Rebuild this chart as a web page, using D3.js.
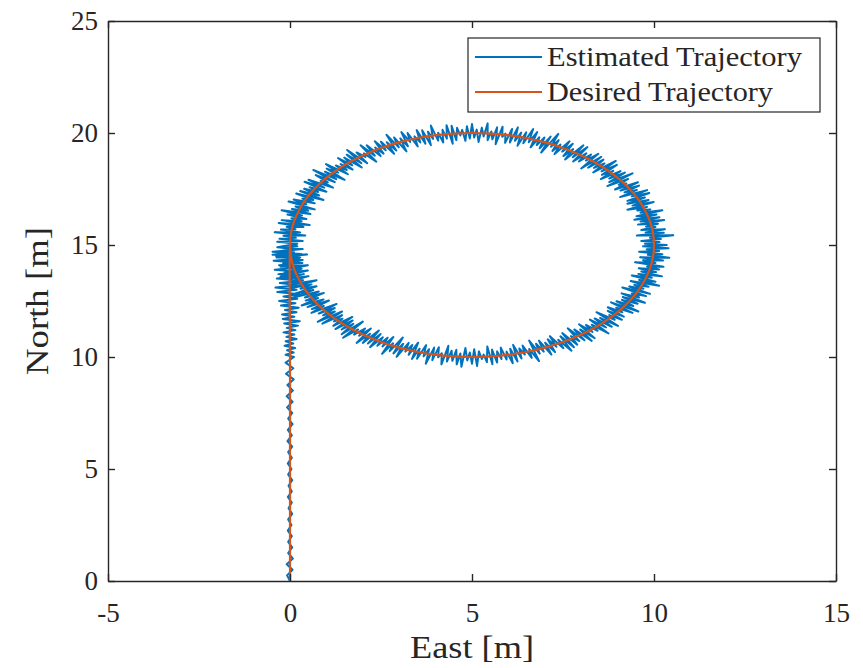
<!DOCTYPE html>
<html>
<head>
<meta charset="utf-8">
<script src="https://cdn.jsdelivr.net/npm/d3@7"></script>
<style>
  html, body { margin: 0; padding: 0; background: #fff; }
  svg { display: block; }
  svg text { font-family: "Liberation Serif", "Tinos", "Times New Roman", "DejaVu Serif", serif; fill: #262626; }
</style>
</head>
<body>
<svg id="chart" width="863" height="668"></svg>
<script>
// ---------------- data ----------------
const xTicks = [-5, 0, 5, 10, 15];
const yTicks = [0, 5, 10, 15, 20, 25];
const seriesNames = ["Estimated Trajectory", "Desired Trajectory"];

// Estimated trajectory, straight northward leg
const estStraightNorth = [0,0.25,0.5,0.75,1,1.25,1.5,1.75,2,2.25,2.5,2.75,3,3.25,3.5,3.75,4,4.25,4.5,4.75,5,5.25,5.5,5.75,6,6.25,6.5,6.75,7,7.25,7.5,7.75,8,8.25,8.5,8.75,9,9.25,9.5,9.75,10,
  10.1,10.2,10.3,10.4,10.5,10.6,10.7,10.8,10.9,11,11.1,11.2,11.3,11.4,11.5,11.6,11.7,11.8,11.9,12,12.1,12.2,12.3,12.4,12.5,12.6,12.7,12.8,12.9,13,13.1,13.2,13.3,13.4,13.5,13.6,13.7,13.8,13.9,14,14.1,14.2,14.3,14.4,14.5,14.6,14.7,14.8,14.9];
const estStraightEast = [0.00,-0.08,0.07,-0.09,0.08,-0.05,0.06,-0.05,0.05,-0.06,0.04,-0.05,0.06,-0.04,0.05,-0.06,0.05,-0.04,0.06,-0.05,0.04,-0.06,0.05,-0.05,0.06,-0.07,0.05,-0.06,0.07,-0.05,0.06,-0.08,0.07,-0.09,0.08,-0.07,0.10,-0.11,0.09,-0.12,0.11,
  -0.12,0.10,-0.08,0.14,-0.15,0.09,-0.12,0.18,-0.10,0.12,-0.18,0.15,-0.09,0.22,-0.16,0.27,-0.20,0.12,-0.22,0.18,-0.14,0.24,-0.25,0.15,-0.30,0.20,-0.18,0.26,-0.35,0.18,-0.40,0.22,-0.28,0.30,-0.36,0.16,-0.32,0.28,-0.42,0.20,-0.30,0.34,-0.45,0.25,-0.38,0.30,-0.48,0.22,-0.35];

// Estimated trajectory, clockwise loop round (5, 15)
const estLoopEast = [
  0.00,0.20,-0.35,0.35,-0.29,0.16,-0.18,0.42,-0.42,0.28,-0.25,0.15,-0.09,0.37,-0.31,0.54,-0.23,0.32,0.04,0.45,
  -0.07,0.33,-0.23,0.56,0.05,0.50,0.15,0.68,-0.04,0.45,0.10,0.68,0.34,0.64,0.17,0.92,0.28,0.80,0.39,0.77,
  0.54,1.00,0.40,0.94,0.51,1.18,0.84,1.04,0.71,1.23,0.64,1.27,0.96,1.50,1.01,1.32,0.99,1.59,1.26,1.56,
  1.39,1.72,1.32,1.71,1.49,1.97,1.56,1.96,1.57,2.12,1.83,2.07,2.03,2.37,1.94,2.33,2.11,2.49,2.34,2.57,
  2.33,2.63,2.50,2.86,2.66,2.92,2.65,2.99,2.86,3.20,3.03,3.24,3.06,3.30,3.23,3.51,3.42,3.58,3.48,3.72,
  3.63,3.87,3.79,3.93,3.87,4.07,4.07,4.21,4.19,4.31,4.30,4.47,4.44,4.57,4.59,4.68,4.73,4.82,4.86,4.94,
  5.00,5.06,5.13,5.18,5.27,5.32,5.43,5.43,5.53,5.56,5.69,5.65,5.84,5.83,5.92,5.91,6.10,6.04,6.26,6.18,
  6.35,6.25,6.49,6.41,6.68,6.56,6.79,6.61,6.85,6.78,6.99,6.86,7.16,6.90,7.37,7.17,7.38,7.21,7.43,7.27,
  7.68,7.48,7.77,7.51,7.78,7.56,8.06,7.77,8.17,7.78,8.14,7.94,8.27,8.13,8.47,8.00,8.55,8.19,8.61,8.35,
  8.64,8.33,8.95,8.56,8.98,8.57,8.88,8.54,9.08,8.77,9.20,8.77,9.41,8.72,9.29,9.03,9.24,8.93,9.56,9.08,
  9.59,9.19,9.53,9.07,9.81,9.39,9.87,9.27,9.75,9.27,9.85,9.41,9.99,9.27,9.81,9.54,9.90,9.63,10.23,9.52,
  10.07,9.46,10.15,9.63,10.28,9.56,10.11,9.78,10.04,9.65,10.30,9.77,10.27,9.53,10.53,9.89,10.19,9.65,10.15,9.75,
  10.35,9.70,10.40,9.80,10.14,9.59,10.23,9.83,10.42,9.62,10.25,9.70,10.04,9.48,10.26,9.81,10.14,9.58,10.06,9.65,
  10.22,9.57,9.94,9.39,10.04,9.59,10.14,9.36,9.85,9.46,9.71,9.32,9.89,9.13,9.78,9.39,9.59,9.11,9.75,9.14,
  9.55,9.12,9.43,8.97,9.57,8.82,9.41,8.96,9.13,8.73,9.17,8.73,9.12,8.77,8.92,8.42,9.01,8.52,8.84,8.37,
  8.68,8.24,8.75,8.29,8.45,8.13,8.31,7.94,8.37,7.97,8.29,7.81,8.09,7.63,7.95,7.72,7.89,7.48,7.80,7.43,
  7.73,7.37,7.51,7.14,7.32,7.08,7.28,7.01,7.18,6.84,6.97,6.76,6.86,6.57,6.84,6.57,6.64,6.39,6.45,6.30,
  6.36,6.13,6.25,6.05,6.12,5.95,5.95,5.79,5.81,5.69,5.69,5.55,5.56,5.42,5.41,5.32,5.27,5.19,5.14,5.06,
  5.00,4.94,4.87,4.82,4.71,4.68,4.58,4.57,4.46,4.44,4.31,4.35,4.16,4.17,4.07,4.09,3.91,3.96,3.73,3.82,
  3.67,3.74,3.49,3.56,3.35,3.52,3.26,3.36,3.17,3.26,2.93,3.11,2.84,3.10,2.74,2.83,2.53,2.84,2.54,2.68,
  2.40,2.55,2.20,2.49,2.14,2.44,2.00,2.20,1.83,2.22,1.90,2.06,1.76,1.87,1.46,2.00,1.42,1.74,1.42,1.72,
  1.25,1.71,1.19,1.44,1.21,1.43,0.89,1.43,0.76,1.23,0.91,1.23,0.79,1.28,0.59,0.93,0.60,1.07,0.48,0.92,
  0.32,0.77,0.43,0.93,0.41,0.79,0.08,0.64,0.16,0.73,0.29,0.59,0.01,0.73,0.05,0.36,0.05,0.51,-0.18,0.38,
  -0.26,0.49,-0.15,0.32,0.01,0.49,-0.26,0.22,-0.19,0.35,-0.11,0.28,-0.37,0.47,-0.48,0.11,-0.29,0.35,-0.20,0.20,
  0.00];
const estLoopNorth = [
  15.00,15.06,15.14,15.18,15.28,15.32,15.41,15.42,15.57,15.56,15.69,15.70,15.81,15.80,15.98,15.89,16.11,16.06,16.19,16.16,
  16.36,16.32,16.55,16.38,16.61,16.53,16.72,16.59,16.94,16.82,17.03,16.86,17.07,17.01,17.30,17.01,17.41,17.21,17.51,17.37,
  17.58,17.38,17.82,17.56,17.91,17.56,17.86,17.80,18.12,17.81,18.35,17.94,18.27,17.91,18.41,18.23,18.61,18.16,18.55,18.35,
  18.61,18.37,18.88,18.56,18.90,18.46,19.03,18.65,19.24,18.65,19.13,18.93,19.09,18.72,19.45,18.99,19.45,18.97,19.35,19.08,
  19.63,19.23,19.61,19.07,19.59,19.22,19.92,19.36,19.80,19.18,19.76,19.41,20.04,19.60,20.00,19.40,19.85,19.58,20.13,19.52,
  20.12,19.46,20.06,19.73,20.33,19.66,20.01,19.58,20.14,19.75,20.35,19.52,20.32,19.68,20.23,19.89,20.14,19.65,20.30,19.75,
  20.40,19.80,20.15,19.60,20.24,19.84,20.43,19.68,20.07,19.72,20.25,19.50,20.28,19.83,19.97,19.56,20.18,19.58,20.25,19.65,
  20.02,19.43,20.03,19.54,20.18,19.59,20.04,19.36,19.81,19.46,19.80,19.32,19.84,19.13,19.96,19.39,19.68,19.20,19.48,19.06,
  19.63,19.17,19.52,18.97,19.28,18.82,19.45,18.92,19.37,18.73,19.09,18.73,19.04,18.77,19.07,18.42,18.94,18.45,18.81,18.44,
  18.64,18.24,18.75,18.29,18.58,18.13,18.31,17.94,18.30,17.97,18.23,17.81,18.20,17.63,17.95,17.69,17.75,17.48,17.80,17.43,
  17.65,17.35,17.46,17.14,17.45,17.17,17.32,16.97,17.12,16.84,17.01,16.76,16.92,16.57,16.70,16.54,16.59,16.44,16.55,16.28,
  16.36,16.13,16.24,16.05,16.12,15.91,15.95,15.82,15.80,15.67,15.70,15.56,15.55,15.42,15.44,15.32,15.27,15.18,15.13,15.06,
  15.00,14.94,14.86,14.81,14.73,14.70,14.59,14.56,14.43,14.45,14.31,14.32,14.20,14.23,14.03,14.04,13.91,13.96,13.79,13.82,
  13.60,13.71,13.54,13.64,13.36,13.44,13.18,13.39,13.14,13.22,13.05,13.15,12.82,13.10,12.72,12.83,12.66,12.84,12.42,12.68,
  12.38,12.55,12.28,12.49,12.03,12.44,11.97,12.20,12.00,12.22,11.80,12.06,11.66,11.87,11.66,12.00,11.39,11.74,11.35,11.72,
  11.32,11.67,11.05,11.44,11.17,11.43,11.12,11.46,10.84,11.23,10.72,11.23,10.75,11.28,10.71,10.93,10.55,11.07,10.44,10.92,
  10.28,10.77,10.39,10.93,10.46,10.79,10.22,10.64,10.11,10.73,10.24,10.59,10.15,10.73,9.82,10.36,9.96,10.51,10.11,10.38,
  9.93,10.54,9.80,10.37,9.72,10.24,9.89,10.42,9.91,10.25,9.75,10.33,9.68,10.47,9.77,10.11,9.91,10.25,9.60,10.35,
  9.70,10.20,9.85,10.40,9.56,10.16,9.67,10.32,9.83,10.28,9.80,10.50,9.67,10.17,9.99,10.44,9.86,10.42,9.70,10.35,
  10.03,10.53,9.92,10.37,9.91,10.64,10.10,10.54,10.24,10.63,10.01,10.59,10.16,10.87,10.26,10.61,10.14,10.89,10.47,10.86,
  10.50,10.88,10.44,11.03,10.60,11.18,10.63,11.04,10.63,11.27,10.95,11.27,11.00,11.23,10.86,11.58,11.02,11.48,11.23,11.63,
  11.25,11.79,11.39,11.71,11.59,11.87,11.49,12.03,11.57,12.03,11.86,12.19,11.94,12.37,11.97,12.28,12.14,12.52,12.23,12.57,
  12.30,12.63,12.52,12.86,12.66,12.92,12.65,12.99,12.84,13.16,13.05,13.24,13.08,13.43,13.25,13.43,13.39,13.61,13.47,13.70,
  13.59,13.86,13.76,13.94,13.94,14.10,14.03,14.18,14.18,14.33,14.33,14.44,14.44,14.58,14.57,14.68,14.72,14.82,14.86,14.94,
  15.00];

// Desired trajectory: straight leg, then the circle of radius 5 round (5, 15)
const desiredEast = [0,0,0,
  0.000,0.027,0.109,0.245,0.432,0.670,0.955,1.284,1.654,2.061,2.500,2.966,3.455,3.960,4.477,5.000,
  5.523,6.040,6.545,7.034,7.500,7.939,8.346,8.716,9.045,9.330,9.568,9.755,9.891,9.973,10.000,
  9.973,9.891,9.755,9.568,9.330,9.045,8.716,8.346,7.939,7.500,7.034,6.545,6.040,5.523,5.000,
  4.477,3.960,3.455,2.966,2.500,2.061,1.654,1.284,0.955,0.670,0.432,0.245,0.109,0.027,0.000];
const desiredNorth = [0,5,10,
  15.000,15.523,16.040,16.545,17.034,17.500,17.939,18.346,18.716,19.045,19.330,19.568,19.755,19.891,19.973,20.000,
  19.973,19.891,19.755,19.568,19.330,19.045,18.716,18.346,17.939,17.500,17.034,16.545,16.040,15.523,15.000,
  14.477,13.960,13.455,12.966,12.500,12.061,11.654,11.284,10.955,10.670,10.432,10.245,10.109,10.027,10.000,
  10.027,10.109,10.245,10.432,10.670,10.955,11.284,11.654,12.061,12.500,12.966,13.455,13.960,14.477,15.000];

// ---------------- build ----------------
const pairUp = (es, ns) => d3.range(Math.min(es.length, ns.length)).map(i => ({ e: es[i], n: ns[i] }));
const estimated = pairUp(estStraightEast, estStraightNorth).concat(pairUp(estLoopEast, estLoopNorth));
const desired = pairUp(desiredEast, desiredNorth);

const M = { left: 108, right: 836, top: 21, bottom: 581 };
const axisColor = "#262626";
const blue = "#0072BD", orange = "#D95319";
const serif = '"Liberation Serif", "Tinos", "Times New Roman", "DejaVu Serif", serif';

const svg = d3.select("#chart");
const x = d3.scaleLinear().domain([-5, 15]).range([M.left, M.right]);
const y = d3.scaleLinear().domain([0, 25]).range([M.bottom, M.top]);

svg.append("defs").append("clipPath").attr("id", "plotclip")
  .append("rect").attr("x", M.left).attr("y", M.top)
  .attr("width", M.right - M.left).attr("height", M.bottom - M.top);

const plot = svg.append("g").attr("clip-path", "url(#plotclip)");

plot.append("path")
  .datum(estimated)
  .attr("fill", "none")
  .attr("stroke", blue)
  .attr("stroke-width", 2)
  .attr("stroke-linejoin", "round")
  .attr("d", d3.line().x(d => x(d.e)).y(d => y(d.n)));

plot.append("path")
  .datum(desired)
  .attr("fill", "none")
  .attr("stroke", orange)
  .attr("stroke-width", 2.2)
  .attr("d", d3.line().x(d => x(d.e)).y(d => y(d.n)).curve(d3.curveCatmullRom.alpha(0.5)));

// axes (MATLAB-like box with inward ticks)
function styleAxis(g) {
  g.attr("font-family", null).attr("font-size", null);
  g.selectAll("path.domain").attr("stroke", axisColor).attr("stroke-width", 1.4);
  g.selectAll(".tick line").attr("stroke", axisColor).attr("stroke-width", 1.4);
  g.selectAll(".tick text").attr("fill", axisColor)
    .style("font-family", serif)
    .style("font-size", "27px");
}
const fmt = d => String(d);

svg.append("g").attr("transform", `translate(0,${M.bottom})`)
  .call(d3.axisBottom(x).tickValues(xTicks).tickFormat(fmt).tickSizeInner(-7).tickSizeOuter(0).tickPadding(22))
  .call(styleAxis);
svg.append("g").attr("transform", `translate(0,${M.top})`)
  .call(d3.axisTop(x).tickValues(xTicks).tickFormat("").tickSizeInner(-7).tickSizeOuter(0))
  .call(styleAxis);
svg.append("g").attr("transform", `translate(${M.left},0)`)
  .call(d3.axisLeft(y).tickValues(yTicks).tickFormat(fmt).tickSizeInner(-7).tickSizeOuter(0).tickPadding(10))
  .call(styleAxis);
svg.append("g").attr("transform", `translate(${M.right},0)`)
  .call(d3.axisRight(y).tickValues(yTicks).tickFormat("").tickSizeInner(-7).tickSizeOuter(0))
  .call(styleAxis);

// axis labels
svg.append("text")
  .attr("x", (M.left + M.right) / 2).attr("y", 658)
  .attr("text-anchor", "middle")
  .attr("textLength", 124).attr("lengthAdjust", "spacingAndGlyphs")
  .style("font-family", serif).style("font-size", "31px")
  .text("East [m]");

svg.append("text")
  .attr("transform", `translate(48,${(M.top + M.bottom) / 2}) rotate(-90)`)
  .attr("text-anchor", "middle")
  .attr("textLength", 148).attr("lengthAdjust", "spacingAndGlyphs")
  .style("font-family", serif).style("font-size", "31px")
  .text("North [m]");

// legend
const leg = svg.append("g");
leg.append("rect")
  .attr("x", 468).attr("y", 38).attr("width", 352).attr("height", 74)
  .attr("fill", "#fff").attr("stroke", axisColor).attr("stroke-width", 1.2);
const legColors = [blue, orange];
const legLens = [255, 226];
seriesNames.forEach((name, i) => {
  const ly = 57 + i * 35;
  leg.append("line").attr("x1", 475).attr("x2", 542).attr("y1", ly).attr("y2", ly)
    .attr("stroke", legColors[i]).attr("stroke-width", i === 0 ? 2 : 2.2);
  leg.append("text").attr("x", 547).attr("y", ly + 9)
    .attr("textLength", legLens[i]).attr("lengthAdjust", "spacingAndGlyphs")
    .style("font-family", serif).style("font-size", "27px")
    .text(name);
});
</script>
</body>
</html>
